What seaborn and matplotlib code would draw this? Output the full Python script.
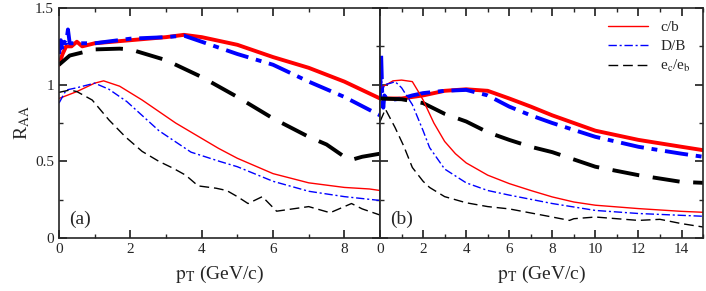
"""Two-panel R_AA comparison: c/b, D/B and e_c/e_b ratios vs p_T."""

import matplotlib
matplotlib.use("Agg")
import matplotlib.pyplot as plt
import seaborn as sns
import pandas as pd
from matplotlib.ticker import MultipleLocator, FuncFormatter

# ---- panel (a) ----
a_cb_thick_x = [0, 0.1, 0.2, 0.35, 0.5, 0.65, 1, 2, 3, 3.5, 4, 5, 6, 7, 8, 9]
a_cb_thick_y = [1.13, 1.2, 1.25, 1.25, 1.28, 1.25, 1.27, 1.29, 1.31, 1.325, 1.31, 1.26, 1.18, 1.11, 1.02, 0.91]
a_db_thick_x = [0, 0.05, 0.1, 0.15, 0.2, 0.25, 0.3, 0.5, 1, 2, 3, 3.5, 4, 5, 6, 7, 8, 9]
a_db_thick_y = [1.2, 1.29, 1.22, 1.28, 1.27, 1.36, 1.27, 1.27, 1.27, 1.3, 1.31, 1.32, 1.28, 1.2, 1.13, 1.02, 0.92, 0.8]
a_ee_thick_x = [0, 0.3, 1, 1.7, 2, 3, 4, 5, 6, 7, 7.5, 8, 8.2, 8.5, 9]
a_ee_thick_y = [1.13, 1.19, 1.23, 1.235, 1.23, 1.16, 1.05, 0.92, 0.78, 0.66, 0.61, 0.53, 0.51, 0.53, 0.55]

a_cb_thin_x = [0, 0.5, 1, 1.25, 1.7, 2.33, 3.27, 4.47, 5, 6, 7, 8, 8.7, 9]
a_cb_thin_y = [0.91, 0.955, 1.01, 1.025, 0.99, 0.9, 0.75, 0.585, 0.52, 0.42, 0.36, 0.33, 0.32, 0.31]
a_db_thin_x = [0, 0.2, 0.5, 1, 1.4, 1.9, 2.8, 3.7, 4.5, 5, 6, 7, 8, 9]
a_db_thin_y = [0.88, 0.965, 0.98, 1.01, 0.97, 0.89, 0.7, 0.56, 0.5, 0.465, 0.37, 0.305, 0.27, 0.245]
a_ee_thin_x = [0, 0.3, 0.5, 0.93, 1.4, 1.86, 2.33, 2.8, 3.2, 3.55, 3.9, 4.4, 4.7, 5, 5.3, 5.7, 6.1, 7, 7.6,
               8.2, 8.5, 9]
a_ee_thin_y = [0.95, 0.965, 0.955, 0.9, 0.77, 0.66, 0.565, 0.5, 0.455, 0.41, 0.34, 0.325, 0.31, 0.27,
               0.225, 0.27, 0.175, 0.205, 0.165, 0.225, 0.19, 0.15]

# ---- panel (b) ----
b_cb_thick_x = [0, 1, 2, 3, 4, 5, 6, 7, 8, 10, 12, 14, 15]
b_cb_thick_y = [0.91, 0.91, 0.93, 0.96, 0.97, 0.96, 0.91, 0.857, 0.8, 0.7, 0.64, 0.595, 0.573]
b_db_thick_x = [0, 0.05, 0.1, 0.15, 0.2, 0.3, 0.5, 1, 1.5, 2, 3, 4, 5, 6, 7, 8, 10, 12, 14, 15]
b_db_thick_y = [0.92, 1.2, 0.95, 0.85, 0.93, 0.91, 0.9, 0.91, 0.93, 0.945, 0.96, 0.966, 0.93, 0.857,
                0.8, 0.75, 0.66, 0.595, 0.55, 0.53]
b_ee_thick_x = [0, 1, 2, 3, 4, 5, 6, 7, 8, 10, 12, 14, 15]
b_ee_thick_y = [0.91, 0.905, 0.88, 0.81, 0.76, 0.69, 0.64, 0.595, 0.56, 0.465, 0.41, 0.366, 0.36]

b_cb_thin_x = [0, 0.3, 0.6, 1, 1.5, 1.8, 2, 2.5, 3, 3.5, 4, 4.5, 5, 6, 7, 8, 9, 10, 12, 14, 15]
b_cb_thin_y = [0.98, 1.0, 1.025, 1.03, 1.02, 0.95, 0.9, 0.75, 0.63, 0.55, 0.49, 0.45, 0.41, 0.355,
               0.31, 0.268, 0.235, 0.214, 0.192, 0.174, 0.168]
b_db_thin_x = [0, 0.05, 0.1, 0.2, 0.5, 0.7, 1, 1.5, 2, 2.3, 3, 4, 5, 6, 8, 10, 12, 14, 15]
b_db_thin_y = [1.0, 1.1, 0.95, 1.0, 1.01, 1.02, 0.98, 0.87, 0.7, 0.59, 0.45, 0.36, 0.31, 0.28,
               0.225, 0.18, 0.16, 0.148, 0.142]
b_ee_thin_x = [0, 0.25, 0.7, 1.1, 1.5, 2, 2.3, 3, 4, 5, 6, 8, 8.8, 9, 10, 12, 13, 14, 15]
b_ee_thin_y = [0.76, 0.84, 0.72, 0.6, 0.46, 0.37, 0.33, 0.27, 0.23, 0.205, 0.19, 0.137, 0.115, 0.126,
               0.137, 0.115, 0.122, 0.094, 0.072]

labels = ["c/b", "D/B", r"e$_\mathrm{c}$/e$_\mathrm{b}$"]
colors = ["#ff0000", "#0000ff", "#000000"]
dash_styles = ["-", (0, (6, 2, 1.5, 2)), (0, (7, 3.5))]

sns.set_theme(style="ticks")
plt.rcParams.update({
    "font.family": ["Liberation Serif", "DejaVu Serif"],
    "mathtext.fontset": "stix",
    "xtick.direction": "in",
    "ytick.direction": "in",
    "xtick.top": True,
    "ytick.right": True,
    "xtick.major.size": 6,
    "ytick.major.size": 6,
    "xtick.minor.size": 3,
    "ytick.minor.size": 3,
    "axes.linewidth": 1.2,
})

fig = plt.figure(figsize=(7.06, 2.91), dpi=100)
ax_a = fig.add_axes([0.0836, 0.182, 0.4547, 0.7905])
ax_b = fig.add_axes([0.5383, 0.182, 0.4575, 0.7905])

panels = [
    (ax_a, [(a_cb_thick_x, a_cb_thick_y), (a_db_thick_x, a_db_thick_y), (a_ee_thick_x, a_ee_thick_y)],
     [(a_cb_thin_x, a_cb_thin_y), (a_db_thin_x, a_db_thin_y), (a_ee_thin_x, a_ee_thin_y)], 9, "(a)"),
    (ax_b, [(b_cb_thick_x, b_cb_thick_y), (b_db_thick_x, b_db_thick_y), (b_ee_thick_x, b_ee_thick_y)],
     [(b_cb_thin_x, b_cb_thin_y), (b_db_thin_x, b_db_thin_y), (b_ee_thin_x, b_ee_thin_y)], 15, "(b)"),
]

for ax, thick, thin, xmax, tag in panels:
    for i, (x, y) in enumerate(thick):
        df = pd.DataFrame({"pt": x, "raa": y})
        sns.lineplot(data=df, x="pt", y="raa", ax=ax, color=colors[i], linewidth=2.8,
                     linestyle=dash_styles[i], estimator=None, sort=False)
    for i, (x, y) in enumerate(thin):
        df = pd.DataFrame({"pt": x, "raa": y})
        sns.lineplot(data=df, x="pt", y="raa", ax=ax, color=colors[i], linewidth=1.0,
                     linestyle=dash_styles[i], estimator=None, sort=False, label=labels[i])
    ax.set_xlim(0, xmax)
    ax.set_ylim(0, 1.5)
    ax.xaxis.set_major_locator(MultipleLocator(2))
    ax.xaxis.set_minor_locator(MultipleLocator(1))
    ax.yaxis.set_major_locator(MultipleLocator(0.5))
    ax.yaxis.set_minor_locator(MultipleLocator(0.25))
    ax.yaxis.set_major_formatter(FuncFormatter(lambda v, p: f"{v:g}"))
    ax.tick_params(which="both", top=True, right=True, labelsize=11)
    ax.set_xlabel(r"$\mathrm{p}_\mathrm{T}$ (GeV/c)", fontsize=14, labelpad=6)
    ax.set_ylabel("")
    ax.text(0.03, 0.06, tag, transform=ax.transAxes, fontsize=14)
    ax.get_legend().remove()

ax_a.set_ylabel(r"R$_\mathrm{AA}$", fontsize=14, labelpad=2)
ax_b.tick_params(labelleft=False)

handles, lbls = ax_b.get_legend_handles_labels()
ax_b.legend(handles, lbls, loc="upper right", frameon=False, fontsize=11,
            handlelength=2.6, labelspacing=0.35, borderaxespad=0.4)

fig.savefig("out.png", dpi=100)
